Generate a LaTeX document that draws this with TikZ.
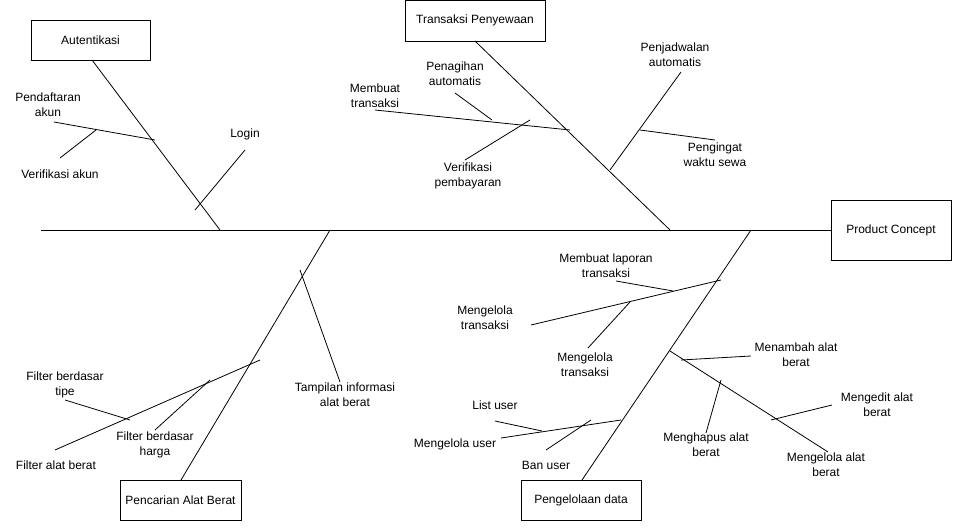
\documentclass[tikz,border=0pt]{standalone}
\usepackage{fontspec}
\setmainfont{Liberation Sans}
\begin{document}
\begin{tikzpicture}[x=1pt,y=-1pt,
  box/.style={draw,fill=white,line width=0.9pt},
  lbl/.style={align=center,font=\fontsize{12}{15}\selectfont,inner sep=0pt},
  ln/.style={line width=0.8pt}]
\useasboundingbox (0,0) rectangle (962,532);
% boxes
\node[box,minimum width=119pt,minimum height=40pt,lbl] (aut) at (90.5,40) {Autentikasi};
\node[box,minimum width=140pt,minimum height=41pt,lbl] (trx) at (475,20.5) {Transaksi Penyewaan};
\node[box,minimum width=120pt,minimum height=60pt,lbl] (pc) at (891,230) {Product Concept};
\node[box,minimum width=121pt,minimum height=40pt,lbl] (pab) at (180.5,500) {Pencarian Alat Berat};
\node[box,minimum width=120pt,minimum height=40pt,lbl] (pd) at (581,500) {Pengelolaan data};
% coordinates
\coordinate (s0) at (41,230);
\coordinate (a1) at (92,60); \coordinate (a2) at (220,230);
\coordinate (t1) at (475,41); \coordinate (t2) at (670,230);
\coordinate (b1) at (330,230); \coordinate (b2) at (181,480);
\coordinate (c1) at (751,230); \coordinate (c2) at (582,480);
\draw[ln] (s0) -- (pc.west);
\draw[ln] (a1) -- (a2);
\draw[ln] (t1) -- (t2);
\draw[ln] (b1) -- (b2);
\draw[ln] (c1) -- (c2);
% Autentikasi
\coordinate (p1) at (54,122); \coordinate (p2) at (155,140);
\draw[ln] (p1) -- (p2);
\coordinate (v1) at (60,158); \coordinate (v2) at (96,130);
\draw[ln] (v1) -- (v2);
\coordinate (l1) at (245,150); \coordinate (l2) at (195,210);
\draw[ln] (l1) -- (l2);
\node[lbl] (tp) at (48,105) {Pendaftaran\\akun};
\node[lbl] (tv) at (60,174) {Verifikasi akun};
\node[lbl] (tl) at (245,134) {Login};
% Transaksi
\coordinate (m1) at (375,110); \coordinate (m2) at (570,130);
\draw[ln] (m1) -- (m2);
\coordinate (g1) at (455,93); \coordinate (g2) at (492,120);
\draw[ln] (g1) -- (g2);
\coordinate (vp1) at (465,160); \coordinate (vp2) at (530,120);
\draw[ln] (vp1) -- (vp2);
\coordinate (j1) at (681,72); \coordinate (j2) at (610,170);
\draw[ln] (j1) -- (j2);
\coordinate (w1) at (640,130); \coordinate (w2) at (715,140);
\draw[ln] (w1) -- (w2);
\node[lbl] (tm) at (375,96) {Membuat\\transaksi};
\node[lbl] (tg) at (455,74) {Penagihan\\automatis};
\node[lbl] (tvp) at (468,176) {Verifikasi\\pembayaran};
\node[lbl] (tj) at (675,55) {Penjadwalan\\automatis};
\node[lbl] (tw) at (715,155) {Pengingat\\waktu sewa};
% Pencarian
\coordinate (ti1) at (300,270); \coordinate (ti2) at (340,382);
\draw[ln] (ti1) -- (ti2);
\coordinate (f1) at (55,450); \coordinate (f2) at (260,360);
\draw[ln] (f1) -- (f2);
\coordinate (ft1) at (65,400); \coordinate (ft2) at (130,420);
\draw[ln] (ft1) -- (ft2);
\coordinate (fh1) at (155,430); \coordinate (fh2) at (210,380);
\draw[ln] (fh1) -- (fh2);
\node[lbl] (tti) at (345,395) {Tampilan informasi\\alat berat};
\node[lbl] (tf) at (56,465) {Filter alat berat};
\node[lbl] (tft) at (65,385) {Filter berdasar\\tipe};
\node[lbl] (tfh) at (155,445) {Filter berdasar\\harga};
% Pengelolaan
\coordinate (mt1) at (531,325); \coordinate (mt2) at (721,280);
\draw[ln] (mt1) -- (mt2);
\coordinate (ml1) at (616,281); \coordinate (ml2) at (673,291);
\draw[ln] (ml1) -- (ml2);
\coordinate (ms1) at (588,348); \coordinate (ms2) at (630,302);
\draw[ln] (ms1) -- (ms2);
\coordinate (lu1) at (495,421); \coordinate (lu2) at (542,431);
\draw[ln] (lu1) -- (lu2);
\coordinate (mu1) at (501,438); \coordinate (mu2) at (621,420);
\draw[ln] (mu1) -- (mu2);
\coordinate (bu1) at (546,450); \coordinate (bu2) at (591,420);
\draw[ln] (bu1) -- (bu2);
\coordinate (ma1) at (670,351); \coordinate (ma2) at (828,452);
\draw[ln] (ma1) -- (ma2);
\coordinate (mn1) at (681,360); \coordinate (mn2) at (751,356);
\draw[ln] (mn1) -- (mn2);
\coordinate (me1) at (771,420); \coordinate (me2) at (832,405);
\draw[ln] (me1) -- (me2);
\coordinate (mh1) at (706,433); \coordinate (mh2) at (721,380);
\draw[ln] (mh1) -- (mh2);
\node[lbl] (tml) at (606,266) {Membuat laporan\\transaksi};
\node[lbl] (tmt) at (485,318) {Mengelola\\transaksi};
\node[lbl] (tms) at (585,365) {Mengelola\\transaksi};
\node[lbl] (tlu) at (495,405) {List user};
\node[lbl] (tmu) at (455,444) {Mengelola user};
\node[lbl] (tbu) at (546,465) {Ban user};
\node[lbl] (tmn) at (796,355) {Menambah alat\\berat};
\node[lbl] (tme) at (877,405) {Mengedit alat\\berat};
\node[lbl] (tmh) at (706,445) {Menghapus alat\\berat};
\node[lbl] (tma) at (826,465) {Mengelola alat\\berat};
\end{tikzpicture}
\end{document}
